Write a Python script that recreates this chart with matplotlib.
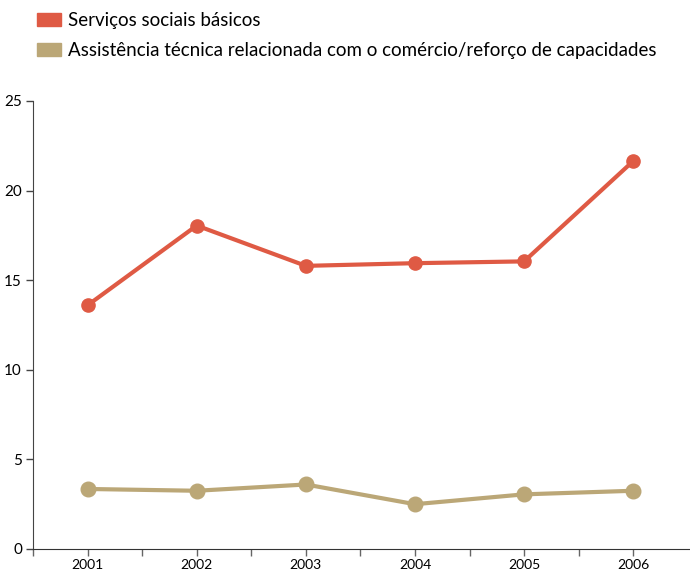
import numpy as np
import matplotlib.pyplot as plt
from matplotlib.patches import Patch

years = ['2001', '2002', '2003', '2004', '2005', '2006']
servicos = [13.6, 18.05, 15.8, 15.95, 16.05, 21.65]
assistencia = [3.35, 3.25, 3.6, 2.5, 3.05, 3.25]
labels = ['Serviços sociais básicos',
          'Assistência técnica relacionada com o comércio/reforço de capacidades']

red = '#DF5A44'
tan = '#BBA777'
plt.rcParams['font.family'] = ['Lato', 'DejaVu Sans']

fig = plt.figure(figsize=(6.9, 5.71), dpi=100)
ax = fig.add_axes([33/690, 22/571, 1 - 33/690, (549-101)/571])

x = np.arange(len(years))
ax.plot(x, servicos, color=red, lw=3, marker='o', ms=9.5, solid_capstyle='round')
ax.plot(x, assistencia, color=tan, lw=3, marker='o', ms=10.5, solid_capstyle='round')

ax.set_ylim(0, 25)
ax.set_xlim(-0.5, 5.52)
ax.set_yticks([0, 5, 10, 15, 20, 25])
ax.set_xticks(x)
ax.set_xticklabels(years)
ax.set_xticks(np.arange(-0.5, 5.5, 1), minor=True)
ax.tick_params(axis='x', which='both', direction='out', length=5, width=1,
               color='#666666', labelsize=10, pad=2)
ax.tick_params(axis='y', direction='out', length=5, width=1, color='#444444',
               labelsize=11, pad=3)
for s in ['top', 'right']:
    ax.spines[s].set_visible(False)
ax.spines['left'].set_color('#444444')
ax.spines['bottom'].set_color('#333333')

handles = [Patch(color=red), Patch(color=tan)]
fig.legend(handles, labels, loc='upper left', bbox_to_anchor=(37/690, 1 - 12/571),
           frameon=False, fontsize=13.5, handlelength=1.3, handleheight=0.7,
           handletextpad=0.35, labelspacing=0.7, borderpad=0, borderaxespad=0)

fig.savefig('out.png', dpi=100)
